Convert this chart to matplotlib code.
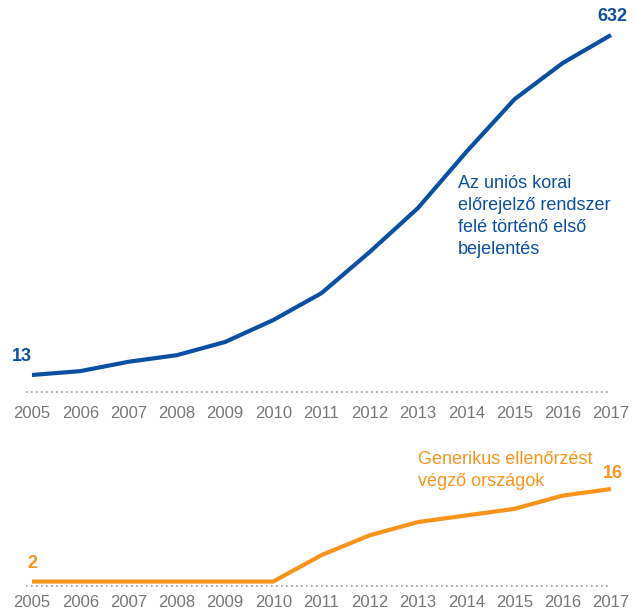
import matplotlib.pyplot as plt

years = list(range(2005, 2018))
notifications = [13, 20, 37, 49, 73, 113, 162, 237, 317, 419, 515, 581, 632]
countries = [2, 2, 2, 2, 2, 2, 6, 9, 11, 12, 13, 15, 16]

BLUE = '#0b4fa2'
ORANGE = '#f7941d'
GREY = '#777777'

plt.rcParams['font.family'] = ['Liberation Sans', 'DejaVu Sans']

W, H = 635, 612
fig = plt.figure(figsize=(W / 100, H / 100), dpi=100)


def px_axes(left, right, top, bottom):
    return fig.add_axes([left / W, 1 - bottom / H, (right - left) / W, (bottom - top) / H])


def style(ax, pad):
    for s in ax.spines.values():
        s.set_visible(False)
    ax.set_xlim(2005, 2017)
    ax.set_xticks(years)
    ax.set_xticklabels([str(y) for y in years])
    ax.tick_params(axis='x', length=0, pad=pad, labelsize=12, labelcolor=GREY)
    ax.set_yticks([])
    ax.axhline(ax.get_ylim()[0], xmin=-0.01, xmax=1.0, color='#999999', lw=1.2,
               ls=(0, (1, 2)), clip_on=False)


# top panel: notifications
ax1 = px_axes(32, 611, 35, 392)
ax1.set_ylim(-18, 632)
ax1.plot(years, notifications, color=BLUE, lw=3, clip_on=False, solid_capstyle='butt')
style(ax1, 10)
ax1.annotate(str(notifications[0]), (years[0], notifications[0]), xytext=(-7, 7),
             textcoords='offset points', ha='center', va='bottom',
             color=BLUE, fontsize=13, fontweight='bold')
ax1.annotate(str(notifications[-1]), (years[-1], notifications[-1]), xytext=(1, 7),
             textcoords='offset points', ha='center', va='bottom',
             color=BLUE, fontsize=13, fontweight='bold')
ax1.text(0.735, 0.608, 'Az uniós korai\nelőrejelző rendszer\nfelé történő első\nbejelentés',
         transform=ax1.transAxes, ha='left', va='top', color=BLUE, fontsize=13,
         linespacing=1.38)

# bottom panel: countries
ax2 = px_axes(32, 611, 489, 585.5)
ax2.set_ylim(1.4, 16)
ax2.plot(years, countries, color=ORANGE, lw=3, clip_on=False, solid_capstyle='butt')
style(ax2, 7)
ax2.annotate(str(countries[0]), (years[0], countries[0]), xytext=(0, 7),
             textcoords='offset points', ha='center', va='bottom',
             color=ORANGE, fontsize=13, fontweight='bold')
ax2.annotate(str(countries[-1]), (years[-1], countries[-1]), xytext=(1, 5),
             textcoords='offset points', ha='center', va='bottom',
             color=ORANGE, fontsize=13, fontweight='bold')
ax2.text(0.667, 1.39, 'Generikus ellenőrzést\nvégző országok',
         transform=ax2.transAxes, ha='left', va='top', color=ORANGE, fontsize=13,
         linespacing=1.38)

fig.savefig('out.png', dpi=100)
